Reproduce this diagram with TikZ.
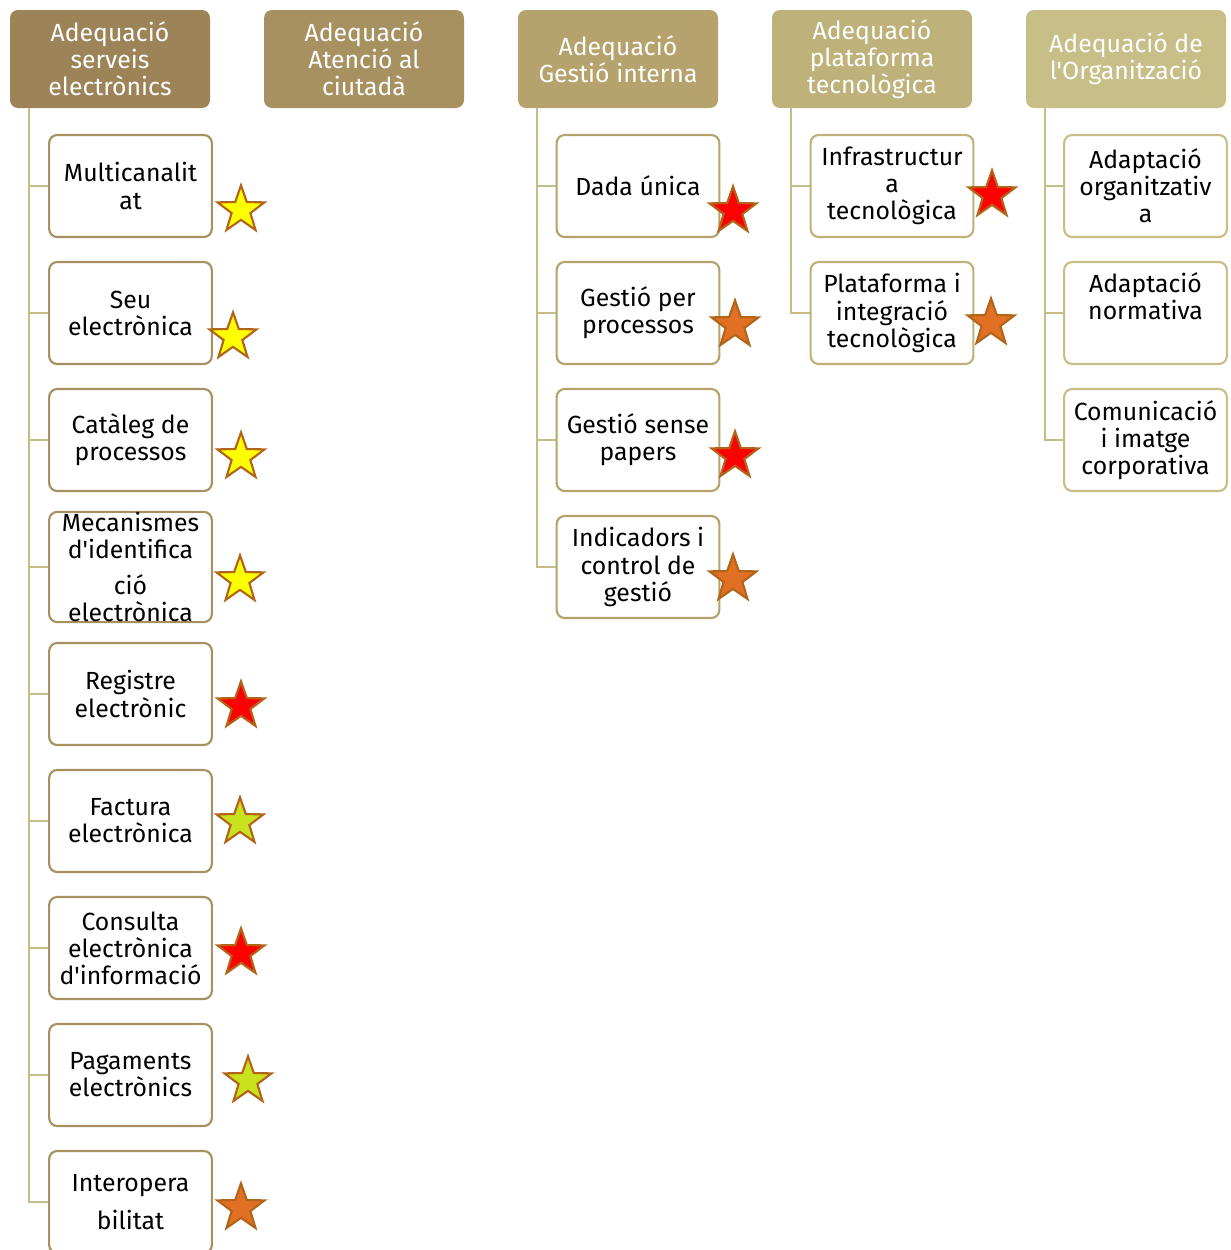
\documentclass[tikz,border=0pt]{standalone}
\usepackage{fontspec}
\newfontfamily\boxfont{Fira Sans}
\usetikzlibrary{shapes.geometric}
\definecolor{hdA}{RGB}{157,132,88}
\definecolor{hdB}{RGB}{168,145,96}
\definecolor{hdC}{RGB}{181,162,108}
\definecolor{hdD}{RGB}{190,177,122}
\definecolor{hdE}{RGB}{199,190,136}
\definecolor{lnk}{RGB}{198,188,136}
\definecolor{stEdge}{RGB}{178,100,24}
\definecolor{stYel}{RGB}{255,255,0}
\definecolor{stRed}{RGB}{255,0,0}
\definecolor{stOra}{RGB}{226,112,36}
\definecolor{stLim}{RGB}{200,226,30}
\tikzset{every picture/.style={line width=0.75pt}}
\tikzset{
  head/.style={fill=#1, rounded corners=6pt, minimum width=150pt, minimum height=73.5pt,
    text=white, align=center, inner sep=0pt, font=\boxfont\fontsize{18.6}{20.3}\selectfont},
  item/.style={draw=#1, line width=1.6pt, fill=white, rounded corners=6pt,
    minimum width=122pt, minimum height=76.5pt, align=center, inner sep=0pt,
    font=\boxfont\fontsize{18.6}{20.3}\selectfont},
  link/.style={draw=lnk, line width=2.2pt},
  starmark/.style={star, star points=5, star point ratio=2.5, minimum size=37pt,
    inner sep=0pt, fill=#1, draw=stEdge, line width=1.6pt}
}

\begin{document}
\begin{tikzpicture}[x=0.75pt,y=0.75pt,yscale=-1,xscale=1]
\useasboundingbox (0,0) rectangle (1231,1250);

% Headers
\node[head=hdA] (h1) at (110,59) {Adequació\\serveis\\electrònics};
\node[head=hdB] (h2) at (364,59) {Adequació\\Atenció al\\ciutadà};
\node[head=hdC] (h3) at (618,59) {Adequació\\Gestió interna};
\node[head=hdD] (h4) at (872,59) {Adequació\\plataforma\\tecnològica};
\node[head=hdE] (h5) at (1126,59) {Adequació de\\l'Organització};

% Trunk tops
\coordinate (t1) at (29,108);
\coordinate (t3) at (537,108);
\coordinate (t4) at (791,108);
\coordinate (t5) at (1045,108);

% Column 1
\draw[link] (t1) -- (29,1202);
\node[item=hdB] (a1) at (130.5,186) {Multicanalit\\at};
\node[item=hdB] (a2) at (130.5,313) {Seu\\electrònica};
\node[item=hdB] (a3) at (130.5,440) {Catàleg de\\processos};
\node[item=hdB] (a4) at (130.5,567) {Mecanismes\\d'identifica\\[7pt]ció\\electrònica};
\node[item=hdB] (a5) at (130.5,694) {Registre\\electrònic};
\node[item=hdB] (a6) at (130.5,821) {Factura\\electrònica};
\node[item=hdB] (a7) at (130.5,948) {Consulta\\electrònica\\d'informació};
\node[item=hdB] (a8) at (130.5,1075) {Pagaments\\electrònics};
\node[item=hdB] (a9) at (130.5,1202) {Interopera\\[8pt]bilitat};
\foreach \i in {1,...,9}
  \draw[link] (t1) |- (a\i.west);

% Column 3
\node[item=hdC] (b1) at (638,186) {Dada única};
\node[item=hdC] (b2) at (638,313) {Gestió per\\processos};
\node[item=hdC] (b3) at (638,440) {Gestió sense\\papers};
\node[item=hdC] (b4) at (638,567) {Indicadors i\\control de\\gestió};
\foreach \i in {1,...,4}
  \draw[link] (t3) |- (b\i.west);

% Column 4
\node[item=hdD] (c1) at (892,186) {Infrastructur\\a\\tecnològica};
\node[item=hdD] (c2) at (892,313) {Plataforma i\\integració\\tecnològica};
\foreach \i in {1,2}
  \draw[link] (t4) |- (c\i.west);

% Column 5
\node[item=hdE] (d1) at (1145.5,186) {Adaptació\\organitzativ\\a};
\node[item=hdE] (d2) at (1145.5,313) {Adaptació\\normativa\\[5pt]~};
\node[item=hdE] (d3) at (1145.5,440) {Comunicació\\i imatge\\corporativa};
\foreach \i in {1,2,3}
  \draw[link] (t5) |- (d\i.west);

% Stars
\node[starmark=stYel] (s1) at (241,210) {};
\node[starmark=stYel] (s2) at (233,337) {};
\node[starmark=stYel] (s3) at (241,457) {};
\node[starmark=stYel] (s4) at (240,580) {};
\node[starmark=stRed] (s5) at (241,706) {};
\node[starmark=stLim] (s6) at (240,822) {};
\node[starmark=stRed] (s7) at (241,953) {};
\node[starmark=stLim] (s8) at (248,1081) {};
\node[starmark=stOra] (s9) at (241,1208) {};
\node[starmark=stRed] (s10) at (733,211) {};
\node[starmark=stOra] (s11) at (735,325) {};
\node[starmark=stRed] (s12) at (735,456) {};
\node[starmark=stOra] (s13) at (733,579) {};
\node[starmark=stRed] (s14) at (992,195) {};
\node[starmark=stOra] (s15) at (991,323) {};

\end{tikzpicture}
\end{document}
